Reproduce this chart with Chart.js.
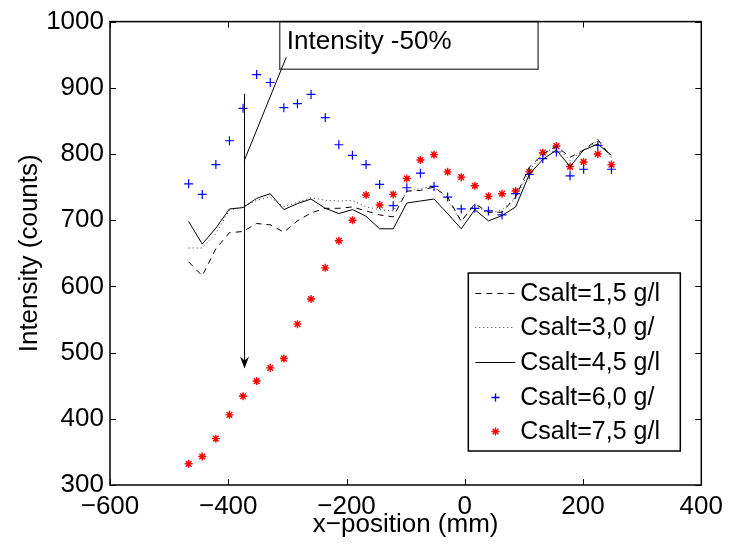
<!DOCTYPE html>
<html>
<head>
<meta charset="utf-8">
<script src="https://cdn.jsdelivr.net/npm/chart.js@4/dist/chart.umd.min.js"></script>
<style>
html,body{margin:0;padding:0;background:#fff;}
#wrap{width:729px;height:549px;position:relative;}
</style>
</head>
<body>
<div id="wrap"><canvas id="c" width="729" height="549"></canvas></div>
<script>
// ---- data ----
const xPositions = [-467,-444,-421,-398,-375,-352,-329,-306,-283,-260,-236,-213,-190,-167,-144,-121,-98,-75,-52,-29,-6,17,40,63,86,109,132,155,178,201,225,248];
const csalt15 = [637,616,657,681,683,695,693,682,699,711,718,718,720,714,708,705,744,745,750,735,698,725,712,712,735,780,800,812,795,806,822,795];
const csalt30 = [658,658,680,715,720,730,735,720,727,734,730,729,730,720,716,714,743,748,751,730,700,723,710,716,733,775,800,812,790,806,820,795];
const csalt45 = [698,664,688,717,719,733,740,716,725,732,718,710,716,706,687,687,726,729,732,710,687,716,699,707,720,769,792,806,781,806,815,798];
const csalt60 = [755,739,784,820,869,920,908,870,876,890,855,814,798,784,754,722,749,771,751,735,717,718,714,708,740,769,793,803,767,777,813,777];
const csalt75 = [332,343,370,406,434,457,477,491,543,581,628,669,700,738,723,739,763,791,799,773,765,752,736,740,744,773,802,812,781,788,800,784];
const seriesLabels = ['Csalt=1,5 g/l','Csalt=3,0 g/','Csalt=4,5 g/l','Csalt=6,0 g/','Csalt=7,5 g/l'];
const xTickValues = [-600,-400,-200,0,200,400];
const yTickValues = [300,400,500,600,700,800,900,1000];
const annotationText = 'Intensity -50%';

const FONT = '"Liberation Sans", Arial, Helvetica, sans-serif';
const pts = (ys) => xPositions.map((x, i) => ({x: x, y: ys[i]}));
const fmt = (v) => (v < 0 ? '\u2212' + Math.abs(v) : String(v));

const datasets = [
  {label: seriesLabels[0], data: pts(csalt15), showLine: true, borderColor: '#000', borderWidth: 1, borderDash: [6,5], pointRadius: 0, fill: false},
  {label: seriesLabels[1], data: pts(csalt30), showLine: true, borderColor: '#333', borderWidth: 1, borderDash: [1,3], pointRadius: 0, fill: false},
  {label: seriesLabels[2], data: pts(csalt45), showLine: true, borderColor: '#000', borderWidth: 1, pointRadius: 0, fill: false},
  {label: seriesLabels[3], data: pts(csalt60), showLine: false, pointStyle: 'cross', pointRadius: 4.5, pointBorderColor: '#0000ff', pointBorderWidth: 1.2, borderColor: '#0000ff', backgroundColor: '#0000ff'},
  {label: seriesLabels[4], data: pts(csalt75), showLine: false, pointStyle: 'star', pointRadius: 4, pointBorderColor: '#ff0000', pointBorderWidth: 1.4, borderColor: '#ff0000', backgroundColor: '#ff0000'}
];

const frameAndExtras = {
  id: 'frameAndExtras',
  beforeDraw(chart) {
    const c = chart.ctx;
    c.save();
    c.fillStyle = '#fff';
    c.fillRect(0, 0, chart.width, chart.height);
    c.restore();
  },
  afterDraw(chart) {
    const c = chart.ctx;
    const a = chart.chartArea;
    const xs = chart.scales.x, ys = chart.scales.y;
    c.save();
    // inward ticks
    c.strokeStyle = '#000';
    c.lineWidth = 1;
    const tl = 6;
    c.beginPath();
    xTickValues.forEach(v => {
      const px = Math.round(xs.getPixelForValue(v)) + 0.5;
      c.moveTo(px, a.bottom); c.lineTo(px, a.bottom - tl);
      c.moveTo(px, a.top); c.lineTo(px, a.top + tl);
    });
    yTickValues.forEach(v => {
      const py = Math.round(ys.getPixelForValue(v)) + 0.5;
      c.moveTo(a.left, py); c.lineTo(a.left + tl, py);
      c.moveTo(a.right, py); c.lineTo(a.right - tl, py);
    });
    c.stroke();

    // annotation box
    const bx1 = xs.getPixelForValue(-313), bx2 = xs.getPixelForValue(124);
    const by1 = ys.getPixelForValue(1000), by2 = ys.getPixelForValue(928);
    c.fillStyle = '#fff';
    c.fillRect(bx1, by1, bx2 - bx1, by2 - by1);
    c.strokeStyle = '#555';
    c.lineWidth = 1.5;
    c.strokeRect(bx1, by1, bx2 - bx1, by2 - by1);
    c.fillStyle = '#000';
    c.font = '26px ' + FONT;
    c.textBaseline = 'alphabetic';
    c.textAlign = 'left';
    c.fillText(annotationText, xs.getPixelForValue(-301), ys.getPixelForValue(958));

    // pointer line
    c.strokeStyle = '#000';
    c.lineWidth = 1;
    c.beginPath();
    c.moveTo(xs.getPixelForValue(-302), ys.getPixelForValue(946));
    c.lineTo(xs.getPixelForValue(-373), ys.getPixelForValue(790));
    c.stroke();
    // arrow
    const ax = Math.round(xs.getPixelForValue(-373)) + 0.5;
    const ay1 = ys.getPixelForValue(891), ay2 = ys.getPixelForValue(476);
    c.beginPath();
    c.moveTo(ax, ay1); c.lineTo(ax, ay2 - 6);
    c.stroke();
    c.beginPath();
    c.moveTo(ax, ay2);
    c.lineTo(ax - 4.5, ay2 - 12);
    c.lineTo(ax, ay2 - 8);
    c.lineTo(ax + 4.5, ay2 - 12);
    c.closePath();
    c.fillStyle = '#000';
    c.fill();

    // legend
    const lw = 212, lh = 178;
    const lx = a.right - 21 - lw, ly = a.bottom - 34 - lh;
    c.fillStyle = '#fff';
    c.fillRect(lx, ly, lw, lh);
    c.strokeStyle = '#000';
    c.lineWidth = 1.5;
    c.strokeRect(lx, ly, lw, lh);
    c.font = '25px ' + FONT;
    c.textBaseline = 'middle';
    c.textAlign = 'left';
    chart.data.datasets.forEach((ds, i) => {
      const yy = Math.round(ly + 19.5 + i * 34.7) + 0.5;
      const s1 = lx + 7, s2 = lx + 47, sm = Math.round((s1 + s2) / 2) + 0.5;
      c.save();
      if (ds.showLine) {
        c.strokeStyle = ds.borderColor;
        c.lineWidth = 1;
        c.setLineDash(ds.borderDash || []);
        c.beginPath(); c.moveTo(s1, yy); c.lineTo(s2, yy); c.stroke();
      } else {
        c.strokeStyle = ds.pointBorderColor;
        c.lineWidth = 1.3;
        c.beginPath();
        const r = 4;
        c.moveTo(sm - r, yy); c.lineTo(sm + r, yy);
        c.moveTo(sm, yy - r); c.lineTo(sm, yy + r);
        if (ds.pointStyle === 'star') {
          const d = r * 0.707;
          c.moveTo(sm - d, yy - d); c.lineTo(sm + d, yy + d);
          c.moveTo(sm - d, yy + d); c.lineTo(sm + d, yy - d);
        }
        c.stroke();
      }
      c.restore();
      c.fillStyle = '#000';
      c.fillText(ds.label, lx + 52, yy + 1);
    });

    // axes frame
    c.strokeStyle = '#000';
    c.lineWidth = 1.5;
    c.strokeRect(a.left, a.top, a.right - a.left, a.bottom - a.top);
    c.restore();
  }
};

new Chart(document.getElementById('c'), {
  type: 'scatter',
  data: {datasets: datasets},
  plugins: [frameAndExtras],
  options: {
    responsive: false,
    devicePixelRatio: 1,
    animation: false,
    layout: {padding: {top: 16, right: 24, left: 0, bottom: 0}},
    plugins: {legend: {display: false}, tooltip: {enabled: false}},
    scales: {
      x: {
        type: 'linear', min: -600, max: 400,
        afterBuildTicks: (s) => { s.ticks = xTickValues.map(v => ({value: v})); },
        afterFit: (s) => { s.height = 64; },
        grid: {display: false, drawTicks: false},
        border: {display: false},
        ticks: {color: '#000', font: {family: FONT, size: 26}, padding: 6, maxRotation: 0, autoSkip: false, callback: (v) => fmt(v)},
        title: {display: true, text: 'x\u2212position (mm)', color: '#000', font: {family: FONT, size: 26}, padding: {top: 0, bottom: 9}}
      },
      y: {
        type: 'linear', min: 300, max: 1000,
        afterBuildTicks: (s) => { s.ticks = yTickValues.map(v => ({value: v})); },
        afterFit: (s) => { s.width = 110; },
        grid: {display: false, drawTicks: false},
        border: {display: false},
        ticks: {color: '#000', font: {family: FONT, size: 26}, padding: 6, autoSkip: false, callback: (v) => fmt(v)},
        title: {display: true, text: 'Intensity (counts)', color: '#000', font: {family: FONT, size: 26}, padding: {top: 14, bottom: 0}}
      }
    }
  }
});
</script>
</body>
</html>
